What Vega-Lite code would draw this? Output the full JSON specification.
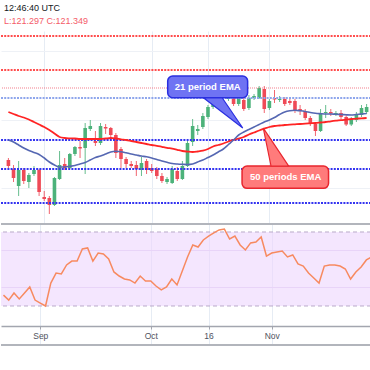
{
 "$schema": "https://vega.github.io/schema/vega-lite/v6.json",
 "background": "#ffffff",
 "padding": {"top": 4, "left": 0, "right": 0, "bottom": 0},
 "title": {"text": "12:46:40 UTC", "subtitle": "L:121.297 C:121.349", "anchor": "start", "frame": "group", "dx": 3, "offset": 5, "font": "Liberation Sans", "fontSize": 9, "fontWeight": "normal", "color": "#131722", "subtitleFont": "Liberation Sans", "subtitleFontSize": 9, "subtitleColor": "#f45b69", "subtitlePadding": 4},
 "config": {"view": {"stroke": null}, "axis": {"title": null, "labels": false, "ticks": false, "domain": false, "grid": false}, "concat": {"spacing": 0}},
 "spacing": 0,
 "datasets": {
  "candles": [
   {"i":0,"o":119.79,"h":119.85,"l":119.55,"c":119.61,"e21":120.39,"e50":121.23,"rsi":35.9},
   {"i":1,"o":119.52,"h":119.64,"l":119.13,"c":119.25,"e21":120.33,"e50":121.17,"rsi":33.2},
   {"i":2,"o":119.01,"h":119.76,"l":118.71,"c":119.49,"e21":120.24,"e50":121.11,"rsi":37.0},
   {"i":3,"o":119.49,"h":119.55,"l":119.07,"c":119.16,"e21":120.15,"e50":121.065,"rsi":33.8},
   {"i":4,"o":119.13,"h":119.40,"l":118.95,"c":119.34,"e21":120.075,"e50":121.005,"rsi":37.0},
   {"i":5,"o":119.37,"h":119.61,"l":119.31,"c":119.49,"e21":120.015,"e50":120.93,"rsi":40.3},
   {"i":6,"o":119.49,"h":119.52,"l":118.71,"c":118.83,"e21":119.955,"e50":120.855,"rsi":33.2},
   {"i":7,"o":118.68,"h":118.86,"l":118.56,"c":118.62,"e21":119.85,"e50":120.78,"rsi":31.6},
   {"i":8,"o":118.65,"h":118.71,"l":118.17,"c":118.44,"e21":119.73,"e50":120.69,"rsi":30.0},
   {"i":9,"o":118.44,"h":119.28,"l":118.41,"c":119.25,"e21":119.64,"e50":120.585,"rsi":42.4},
   {"i":10,"o":119.22,"h":120.06,"l":119.19,"c":119.64,"e21":119.58,"e50":120.48,"rsi":47.8},
   {"i":11,"o":119.67,"h":119.85,"l":119.49,"c":119.55,"e21":119.58,"e50":120.45,"rsi":47.3},
   {"i":12,"o":119.55,"h":120.00,"l":119.52,"c":119.97,"e21":119.601,"e50":120.44,"rsi":52.2},
   {"i":13,"o":119.97,"h":120.21,"l":119.91,"c":120.18,"e21":119.625,"e50":120.435,"rsi":54.3},
   {"i":14,"o":120.18,"h":120.36,"l":119.85,"c":120.135,"e21":119.67,"e50":120.42,"rsi":54.3},
   {"i":15,"o":120.15,"h":120.90,"l":119.37,"c":120.75,"e21":119.715,"e50":120.42,"rsi":60.8},
   {"i":16,"o":120.72,"h":120.99,"l":120.66,"c":120.81,"e21":119.79,"e50":120.42,"rsi":61.4},
   {"i":17,"o":120.36,"h":120.66,"l":120.21,"c":120.30,"e21":119.865,"e50":120.42,"rsi":54.3},
   {"i":18,"o":120.30,"h":120.90,"l":120.24,"c":120.81,"e21":119.91,"e50":120.42,"rsi":58.6},
   {"i":19,"o":120.78,"h":120.87,"l":120.57,"c":120.735,"e21":119.97,"e50":120.435,"rsi":58.1},
   {"i":20,"o":120.75,"h":120.78,"l":120.48,"c":120.54,"e21":120.03,"e50":120.45,"rsi":55.4},
   {"i":21,"o":120.54,"h":120.60,"l":119.85,"c":120.00,"e21":120.051,"e50":120.435,"rsi":48.4},
   {"i":22,"o":120.12,"h":120.18,"l":119.55,"c":119.82,"e21":120.039,"e50":120.41,"rsi":46.2},
   {"i":23,"o":119.82,"h":119.88,"l":119.55,"c":119.67,"e21":120.006,"e50":120.39,"rsi":44.6},
   {"i":24,"o":119.67,"h":119.76,"l":119.55,"c":119.61,"e21":119.97,"e50":120.36,"rsi":44.1},
   {"i":25,"o":119.64,"h":119.76,"l":119.31,"c":119.52,"e21":119.94,"e50":120.33,"rsi":42.4},
   {"i":26,"o":119.49,"h":119.88,"l":119.31,"c":119.70,"e21":119.91,"e50":120.30,"rsi":46.2},
   {"i":27,"o":119.76,"h":119.82,"l":119.37,"c":119.49,"e21":119.886,"e50":120.27,"rsi":43.5},
   {"i":28,"o":119.55,"h":119.67,"l":119.40,"c":119.46,"e21":119.85,"e50":120.24,"rsi":43.5},
   {"i":29,"o":119.52,"h":119.58,"l":119.22,"c":119.31,"e21":119.805,"e50":120.216,"rsi":40.8},
   {"i":30,"o":119.31,"h":119.40,"l":119.10,"c":119.16,"e21":119.76,"e50":120.186,"rsi":38.7},
   {"i":31,"o":119.13,"h":119.28,"l":119.07,"c":119.22,"e21":119.721,"e50":120.156,"rsi":40.3},
   {"i":32,"o":119.10,"h":119.61,"l":119.07,"c":119.52,"e21":119.685,"e50":120.132,"rsi":44.6},
   {"i":33,"o":119.46,"h":119.58,"l":119.16,"c":119.22,"e21":119.67,"e50":120.096,"rsi":41.4},
   {"i":34,"o":119.22,"h":119.76,"l":119.19,"c":119.61,"e21":119.661,"e50":120.06,"rsi":48.9},
   {"i":35,"o":119.61,"h":120.36,"l":119.58,"c":120.30,"e21":119.655,"e50":120.042,"rsi":56.5},
   {"i":36,"o":120.33,"h":121.02,"l":120.21,"c":120.81,"e21":119.67,"e50":120.03,"rsi":63.0},
   {"i":37,"o":120.66,"h":120.84,"l":120.54,"c":120.72,"e21":119.73,"e50":120.045,"rsi":61.9},
   {"i":38,"o":120.78,"h":121.20,"l":120.72,"c":121.11,"e21":119.79,"e50":120.069,"rsi":65.7},
   {"i":39,"o":121.08,"h":121.44,"l":121.02,"c":121.38,"e21":119.865,"e50":120.12,"rsi":67.8},
   {"i":40,"o":121.38,"h":121.74,"l":121.32,"c":121.62,"e21":119.94,"e50":120.195,"rsi":69.5},
   {"i":41,"o":121.62,"h":121.86,"l":121.56,"c":121.77,"e21":120.03,"e50":120.24,"rsi":71.1},
   {"i":42,"o":121.71,"h":121.95,"l":121.65,"c":121.77,"e21":120.12,"e50":120.285,"rsi":71.6},
   {"i":43,"o":121.62,"h":121.86,"l":121.56,"c":121.74,"e21":120.255,"e50":120.345,"rsi":66.2},
   {"i":44,"o":121.77,"h":121.83,"l":121.41,"c":121.47,"e21":120.39,"e50":120.39,"rsi":67.8},
   {"i":45,"o":121.47,"h":121.71,"l":121.41,"c":121.65,"e21":120.54,"e50":120.435,"rsi":63.0},
   {"i":46,"o":121.59,"h":121.68,"l":121.26,"c":121.32,"e21":120.63,"e50":120.48,"rsi":60.3},
   {"i":47,"o":121.35,"h":121.74,"l":121.29,"c":121.65,"e21":120.705,"e50":120.555,"rsi":64.1},
   {"i":48,"o":121.65,"h":121.77,"l":121.59,"c":121.71,"e21":120.78,"e50":120.615,"rsi":64.6},
   {"i":49,"o":121.65,"h":122.01,"l":121.62,"c":121.95,"e21":120.855,"e50":120.675,"rsi":67.3},
   {"i":50,"o":121.92,"h":122.01,"l":121.20,"c":121.32,"e21":120.93,"e50":120.729,"rsi":57.0},
   {"i":51,"o":121.35,"h":121.62,"l":121.29,"c":121.56,"e21":120.99,"e50":120.78,"rsi":58.6},
   {"i":52,"o":121.65,"h":121.89,"l":121.50,"c":121.605,"e21":121.065,"e50":120.81,"rsi":59.2},
   {"i":53,"o":121.59,"h":121.71,"l":121.53,"c":121.62,"e21":121.155,"e50":120.825,"rsi":59.7},
   {"i":54,"o":121.62,"h":121.68,"l":121.41,"c":121.47,"e21":121.23,"e50":120.84,"rsi":56.5},
   {"i":55,"o":121.56,"h":121.65,"l":121.44,"c":121.50,"e21":121.266,"e50":120.852,"rsi":57.6},
   {"i":56,"o":121.56,"h":121.62,"l":121.20,"c":121.26,"e21":121.281,"e50":120.861,"rsi":52.7},
   {"i":57,"o":121.32,"h":121.44,"l":121.14,"c":121.26,"e21":121.266,"e50":120.87,"rsi":51.6},
   {"i":58,"o":121.26,"h":121.32,"l":120.99,"c":121.05,"e21":121.245,"e50":120.882,"rsi":47.8},
   {"i":59,"o":121.05,"h":121.11,"l":120.81,"c":120.87,"e21":121.215,"e50":120.891,"rsi":45.1},
   {"i":60,"o":120.87,"h":120.93,"l":120.51,"c":120.66,"e21":121.191,"e50":120.90,"rsi":42.4},
   {"i":61,"o":120.66,"h":121.32,"l":120.63,"c":121.17,"e21":121.179,"e50":120.915,"rsi":51.6},
   {"i":62,"o":121.20,"h":121.44,"l":121.05,"c":121.23,"e21":121.17,"e50":120.93,"rsi":52.2},
   {"i":63,"o":121.23,"h":121.32,"l":121.11,"c":121.185,"e21":121.17,"e50":120.951,"rsi":52.2},
   {"i":64,"o":121.17,"h":121.26,"l":121.11,"c":121.20,"e21":121.161,"e50":120.969,"rsi":51.6},
   {"i":65,"o":121.20,"h":121.29,"l":121.02,"c":121.08,"e21":121.155,"e50":120.984,"rsi":50.0},
   {"i":66,"o":121.08,"h":121.17,"l":120.81,"c":120.855,"e21":121.146,"e50":121.002,"rsi":44.6},
   {"i":67,"o":120.855,"h":121.08,"l":120.81,"c":121.02,"e21":121.14,"e50":121.02,"rsi":48.4},
   {"i":68,"o":120.99,"h":121.23,"l":120.93,"c":121.17,"e21":121.155,"e50":121.029,"rsi":51.1},
   {"i":69,"o":121.14,"h":121.44,"l":121.08,"c":121.35,"e21":121.17,"e50":121.041,"rsi":54.9},
   {"i":70,"o":121.23,"h":121.47,"l":121.17,"c":121.38,"e21":121.185,"e50":121.05,"rsi":56.5}
  ],
  "levels": [
   {"price":123.51,"kind":"redBold"},
   {"price":122.49,"kind":"redBold"},
   {"price":121.95,"kind":"redThin"},
   {"price":121.65,"kind":"blueLight"},
   {"price":120.39,"kind":"blue"},
   {"price":119.52,"kind":"blue"},
   {"price":118.50,"kind":"blue"}
  ],
  "notes": [
   {"label":"21 period EMA","kind":"blue","x1":31.13,"x2":46.75,"top":122.31,"bottom":121.66,"cx":38.94,"cy":121.98},
   {"label":"50 periods EMA","kind":"red","x1":45.66,"x2":62.56,"top":119.61,"bottom":118.94,"cx":54.18,"cy":119.28}
  ],
  "pointers": [
   {"kind":"blue","x":38.18,"a":121.65,"b":121.65},
   {"kind":"blue","x":41.80,"a":121.65,"b":121.22},
   {"kind":"blue","x":45.80,"a":120.75,"b":120.75},
   {"kind":"red","x":49.80,"a":120.75,"b":120.75},
   {"kind":"red","x":51.32,"a":120.40,"b":119.61},
   {"kind":"red","x":54.75,"a":119.61,"b":119.61}
  ]
 },
 "vconcat": [
  {
   "width": 370,
   "height": 192,
   "layer": [
    {
     "data": {"name": "candles"},
     "mark": {"type": "rule", "strokeWidth": 1, "clip": true, "opacity": 0.85},
     "encoding": {
      "x": {"field": "i", "type": "quantitative", "scale": {"domain": [-0.47, 69.88], "nice": false, "zero": false}, "axis": {"values": [7, 28, 39, 51], "grid": true, "gridColor": "#e6ecf4", "gridWidth": 1}},
      "y": {"field": "l", "type": "quantitative", "scale": {"domain": [117.9, 123.66], "nice": false, "zero": false}, "axis": {"values": [118.95, 121.005, 123.06], "grid": true, "gridColor": "#eef1f6", "gridWidth": 1}},
      "y2": {"field": "h"},
      "color": {"condition": {"test": "datum.c >= datum.o", "value": "#4cb27a"}, "value": "#ef4a57"}
     }
    },
    {
     "data": {"name": "candles"},
     "mark": {"type": "bar", "width": 3.6, "clip": true},
     "encoding": {
      "x": {"field": "i", "type": "quantitative"},
      "y": {"field": "o", "type": "quantitative"},
      "y2": {"field": "c"},
      "color": {"condition": {"test": "datum.c >= datum.o", "value": "#4cb27a"}, "value": "#ef4a57"}
     }
    },
    {
     "data": {"name": "levels"},
     "transform": [{"filter": "datum.kind == 'redBold'"}],
     "mark": {"type": "rule", "color": "#ff3b3b", "strokeWidth": 2, "strokeDash": [2, 1.2], "opacity": 0.9},
     "encoding": {"y": {"field": "price", "type": "quantitative"}}
    },
    {
     "data": {"name": "levels"},
     "transform": [{"filter": "datum.kind == 'redThin'"}],
     "mark": {"type": "rule", "color": "#f06070", "strokeWidth": 1, "strokeDash": [1, 1], "opacity": 0.8},
     "encoding": {"y": {"field": "price", "type": "quantitative"}}
    },
    {
     "data": {"name": "levels"},
     "transform": [{"filter": "datum.kind == 'blueLight'"}],
     "mark": {"type": "rule", "color": "#8ea6ec", "strokeWidth": 2, "strokeDash": [2, 1.2]},
     "encoding": {"y": {"field": "price", "type": "quantitative"}}
    },
    {
     "data": {"name": "levels"},
     "transform": [{"filter": "datum.kind == 'blue'"}],
     "mark": {"type": "rule", "color": "#3434f0", "strokeWidth": 2, "strokeDash": [2, 1.2]},
     "encoding": {"y": {"field": "price", "type": "quantitative"}}
    },
    {
     "data": {"name": "candles"},
     "mark": {"type": "line", "color": "#ff2424", "strokeWidth": 1.8, "interpolate": "monotone", "clip": true},
     "encoding": {"x": {"field": "i", "type": "quantitative"}, "y": {"field": "e50", "type": "quantitative"}}
    },
    {
     "data": {"name": "candles"},
     "mark": {"type": "line", "color": "#5567b2", "strokeWidth": 1.6, "interpolate": "monotone", "clip": true},
     "encoding": {"x": {"field": "i", "type": "quantitative"}, "y": {"field": "e21", "type": "quantitative"}}
    },
    {
     "data": {"name": "notes"},
     "transform": [{"filter": "datum.kind == 'blue'"}],
     "mark": {"type": "rect", "fill": "#6f73f3", "stroke": "#2a2fe0", "strokeWidth": 1.5, "cornerRadius": 5},
     "encoding": {"x": {"field": "x1", "type": "quantitative"}, "x2": {"field": "x2"}, "y": {"field": "top", "type": "quantitative"}, "y2": {"field": "bottom"}}
    },
    {
     "data": {"name": "pointers"},
     "transform": [{"filter": "datum.kind == 'blue'"}],
     "mark": {"type": "area", "fill": "#6f73f3", "stroke": "#2a2fe0", "strokeWidth": 1.2},
     "encoding": {"x": {"field": "x", "type": "quantitative"}, "y": {"field": "a", "type": "quantitative"}, "y2": {"field": "b"}}
    },
    {
     "data": {"name": "notes"},
     "transform": [{"filter": "datum.kind == 'red'"}],
     "mark": {"type": "rect", "fill": "#ff7b7b", "stroke": "#e8262e", "strokeWidth": 1.5, "cornerRadius": 5},
     "encoding": {"x": {"field": "x1", "type": "quantitative"}, "x2": {"field": "x2"}, "y": {"field": "top", "type": "quantitative"}, "y2": {"field": "bottom"}}
    },
    {
     "data": {"name": "pointers"},
     "transform": [{"filter": "datum.kind == 'red'"}],
     "mark": {"type": "area", "fill": "#ff7b7b", "stroke": "#e8262e", "strokeWidth": 1.2},
     "encoding": {"x": {"field": "x", "type": "quantitative"}, "y": {"field": "a", "type": "quantitative"}, "y2": {"field": "b"}}
    },
    {
     "data": {"name": "notes"},
     "mark": {"type": "text", "color": "#ffffff", "font": "Liberation Sans", "fontWeight": "bold", "fontSize": 9.5, "align": "center", "baseline": "middle"},
     "encoding": {"x": {"field": "cx", "type": "quantitative"}, "y": {"field": "cy", "type": "quantitative"}, "text": {"field": "label"}}
    }
   ]
  },
  {
   "width": 370,
   "height": 121,
   "layer": [
    {
     "data": {"values": [{"top": 70, "bot": 30}]},
     "mark": {"type": "rect", "fill": "#ecd5fd", "opacity": 0.6},
     "encoding": {
      "y": {"field": "top", "type": "quantitative", "scale": {"domain": [8.92, 74.32], "nice": false, "zero": false}, "axis": {"values": [40, 60], "grid": true, "gridColor": "#e2d3ef", "gridWidth": 1}},
      "y2": {"field": "bot"}
     }
    },
    {
     "data": {"values": [{"lvl": 70}, {"lvl": 30}]},
     "mark": {"type": "rule", "color": "#b9aac9", "strokeWidth": 1, "strokeDash": [4, 3]},
     "encoding": {"y": {"field": "lvl", "type": "quantitative"}}
    },
    {
     "data": {"name": "candles"},
     "mark": {"type": "line", "color": "#f78a60", "strokeWidth": 1.5, "clip": true},
     "encoding": {
      "x": {"field": "i", "type": "quantitative", "scale": {"domain": [-0.47, 69.88], "nice": false, "zero": false}, "axis": {"values": [7, 28, 39, 51], "labelExpr": "datum.value == 7 ? 'Sep' : datum.value == 28 ? 'Oct' : datum.value == 39 ? '16' : 'Nov'", "grid": true, "gridColor": "#e6ecf4", "offset": -19, "domain": true, "domainColor": "#a3a6af", "domainWidth": 1.5, "ticks": true, "tickColor": "#a3a6af", "tickSize": 3, "labels": true, "labelFont": "Liberation Sans", "labelFontSize": 8.5, "labelColor": "#50535e", "labelPadding": 2}},
      "y": {"field": "rsi", "type": "quantitative"}
     }
    },
    {
     "data": {"values": [{"edge": 74.32}, {"edge": 8.92}]},
     "mark": {"type": "rule", "color": "#b2b5bc", "strokeWidth": 2},
     "encoding": {"y": {"field": "edge", "type": "quantitative"}}
    }
   ]
  }
 ]
}
